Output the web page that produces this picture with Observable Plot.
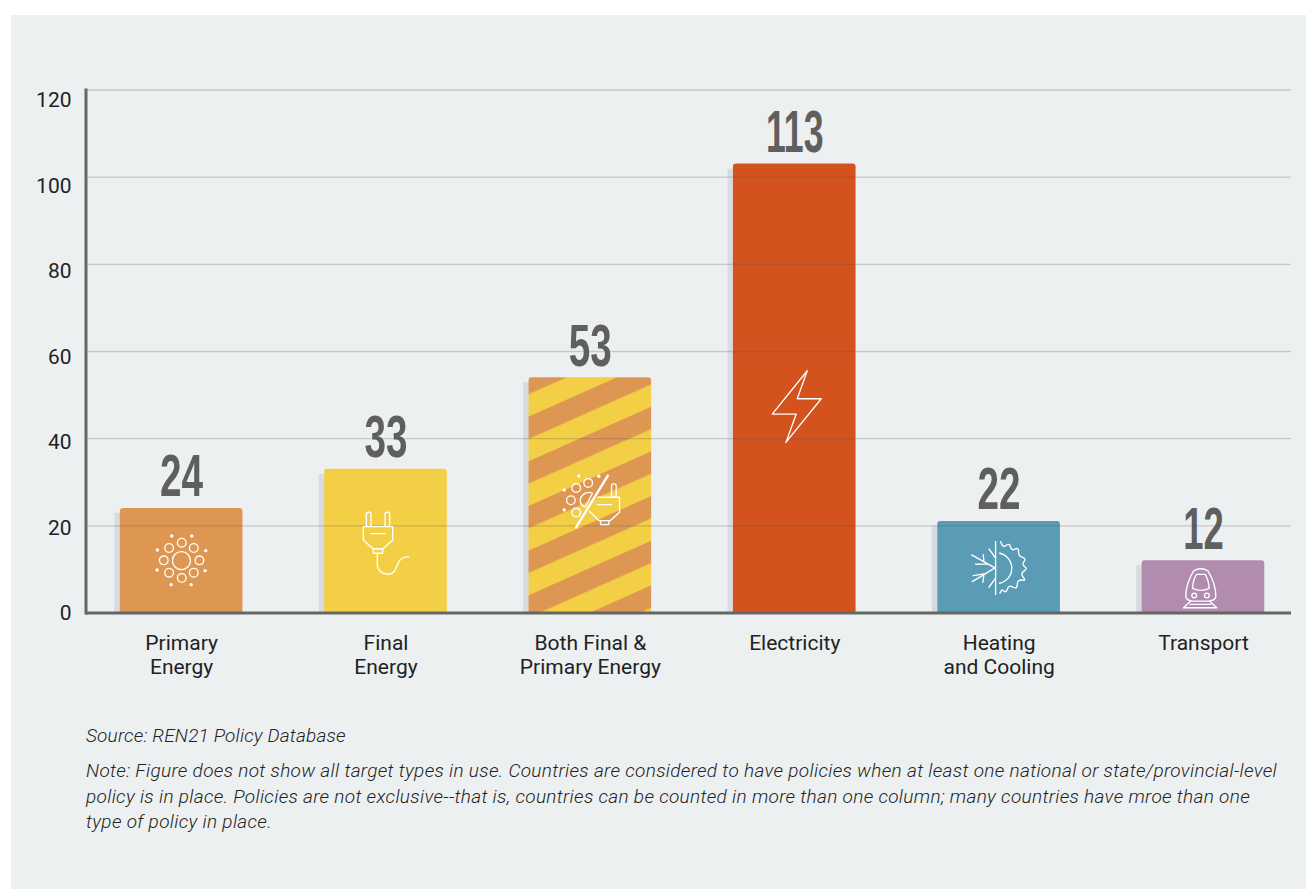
<!DOCTYPE html>
<html>
<head>
<meta charset="utf-8">
<script src="https://cdn.jsdelivr.net/npm/d3@7"></script>
<script src="https://cdn.jsdelivr.net/npm/@observablehq/plot@0.6"></script>
<style>
html,body{margin:0;padding:0;background:#fff;}
#panel{position:absolute;left:11px;top:15px;width:1295px;height:874px;background:#edf0f1;overflow:hidden;}
#panel svg{display:block;background:transparent;}
#notes{position:absolute;left:75px;top:707.5px;width:1215px;font-family:Roboto,sans-serif;font-style:italic;font-weight:300;font-size:19px;letter-spacing:0.32px;color:#222;}
#notes p{margin:0;line-height:25.5px;white-space:nowrap;}
#notes p.src{margin-bottom:10px;letter-spacing:0.17px;}
</style>
</head>
<body>
<div id="panel"><div id="chart"></div>
<div id="notes">
<p class="src">Source: REN21 Policy Database</p>
<p>Note: Figure does not show all target types in use. Countries are considered to have policies when at least one national or state/provincial-level<br>policy is in place. Policies are not exclusive--that is, countries can be counted in more than one column; many countries have mroe than one<br>type of policy in place.</p>
</div></div>
<script>
const categories = ["Primary\nEnergy","Final\nEnergy","Both Final &\nPrimary Energy","Electricity","Heating\nand Cooling","Transport"];
const barValues = [24,33,54,103,21,12];
const labelValues = [24,33,53,113,22,12];
const barColors = ["#de9753","#f3cf45","url(#stripes)","#d4521d","#5a9bb5","#b18cae"];
const iconLevels = [12,16,25.8,47.4,10.5,5.8];
const yTicks = [0,20,40,60,80,100,120];

const S = 'fill="none" stroke="#fff" stroke-width="4" stroke-linecap="round" stroke-linejoin="round"';
const glyph = (vb, body) => "data:image/svg+xml," + encodeURIComponent(
  `<svg xmlns="http://www.w3.org/2000/svg" viewBox="${vb}"><g ${S}>${body}</g></svg>`);
const dot = (x,y) => `<circle cx="${x}" cy="${y}" r="5" fill="#fff" stroke="none"/>`;
const ring = (x,y,r=13) => `<circle cx="${x}" cy="${y}" r="${r}"/>`;

const iconSun = glyph("421.5 242 240 240",
  ring(541,362,27)+ring(542,308)+ring(578,324)+ring(595,361)+ring(578,398)+ring(542,414)+ring(504,398)+ring(488,361)+ring(504,324)
  +dot(512,288)+dot(572,288)+dot(614,332)+dot(612,392)+dot(570,434)+dot(510,434)+dot(468,390)+dot(469,330));
const iconPlug = glyph("1036 190 240 240",
  `<rect x="1097" y="217" width="14" height="43" rx="6"/><rect x="1153" y="217" width="14" height="43" rx="6"/>
   <path d="M1088 260H1176V300L1146 327H1118L1088 300Z"/><path d="M1110 281H1154"/><path d="M1118 327H1146V340H1118Z"/>
   <path d="M1130 340V372C1130 392 1145 403 1160 403C1182 403 1186 385 1192 370C1198 356 1210 350 1225 350"/>`);
const iconBoth = glyph("154.5 450 240 240",
  ring(232,532)+ring(268,517)+ring(216,569)+ring(232,606)
  +dot(240,496)+dot(300,497)+dot(196,538)+dot(196,598)
  +`<path d="M281 548C255 535 225 575 259 590Z"/>
    <rect x="338" y="520" width="14" height="40" rx="6"/>
    <path d="M297 560H362V605L335 630H300L272 603"/><path d="M295 582H338"/><path d="M305 630V642H330V630"/>
    <path d="M327 495L232 650" stroke-width="7"/>`);
const iconBolt = glyph("763.5 167 240 240", `<path d="M921 180L891 264H963L857 395L888 310H816Z"/>`);
const iconHeat = glyph("175.5 200 240 240",
  `<path d="M285 243V402"/><path d="M297 278A46 46 0 0 1 297 368"/>
   <path d="M300 243Q306 262 314 256T327 252Q332 272 342 266T354 270Q352 286 364 290T372 300Q362 312 372 318T372 330Q358 338 368 350T364 358Q350 358 350 372T338 380Q324 372 320 386T306 388Q302 388 298 398"/>
   <path d="M213 283L283 322M248 282L250 303M225 311L262 310M215 363L283 322M218 345L250 340M247 365L250 340M265 265L283 290M265 380L283 355"/>`);
const iconTrain = glyph("788 262 240 240",
  `<path d="M878 332Q900 318 922 332Q946 372 945 410Q942 420 925 422H873Q858 420 855 410Q854 372 878 332Z"/>
   <path d="M887 342H913Q924 360 925 384Q900 396 875 384Q876 360 887 342Z"/>
   ${ring(880,405,7)}${ring(918,405,7)}
   <path d="M870 422L848 442H948L926 422M868 432H930"/>`);
const icons = [iconSun, iconPlug, iconBoth, iconBolt, iconHeat, iconTrain];

const rows = categories.map((c,i)=>({c, bar:barValues[i], label:labelValues[i], fill:barColors[i], level:iconLevels[i], icon:icons[i]}));
const digitWidth = s => [...String(s)].reduce((a,d)=>a+(d==="1"?19:21.5),0);
const numeralSize = 60;

const stripes = () => {
  const ns = "http://www.w3.org/2000/svg";
  const g = document.createElementNS(ns,"defs");
  g.innerHTML = `<pattern id="stripes" patternUnits="userSpaceOnUse" width="40.8" height="40.8" patternTransform="translate(519 401) rotate(-24)">
    <rect width="40.8" height="40.8" fill="#f3cf45"/><rect width="40.8" height="20.4" fill="#de9753"/></pattern>`;
  return g;
};

const squeeze = (index, scales, values, dims, ctx, next) => {
  const g = next(index, scales, values, dims, ctx);
  g.querySelectorAll("text").forEach(t => {
    const s = t.textContent;
    const sx = digitWidth(s) / (s.length * numeralSize * 0.556);
    t.setAttribute("transform", (t.getAttribute("transform") || "") + ` scale(${sx},1)`);
  });
  return g;
};

const chart = Plot.plot({
  width:1295, height:685,
  marginLeft:74.5, marginRight:15, marginTop:74.5, marginBottom:87.5,
  style:{fontFamily:"Roboto, sans-serif", fontSize:"21px", color:"#222", background:"transparent"},
  x:{domain:categories, range:[108.8,1253.3], paddingInner:0.4, paddingOuter:0, round:false, label:null},
  y:{domain:[0,120], range:[597.5,74.5], label:null},
  color:{type:"identity"},
  marks:[
    stripes,
    Plot.barY(rows,{x:"c", y1:0, y2:d=>d.bar-1.15, dx:-5.5, fill:"#d9dcdf", clip:true}),
    Plot.barY(rows,{x:"c", y1:-3, y2:"bar", fill:"fill", rx:3, clip:true}),
    Plot.text(rows,{x:"c", y:"bar", text:"label", dy:-12, lineAnchor:"bottom", fill:"#5f5f5f",
      fontFamily:"'Liberation Sans', sans-serif", fontWeight:700, fontSize:numeralSize, render:squeeze}),
    Plot.ruleY(yTicks.slice(1),{stroke:"#555", strokeOpacity:0.25, strokeWidth:1.4}),
    Plot.image(rows,{x:"c", y:"level", src:"icon", width:80, height:80}),
    Plot.axisY(yTicks,{y:d=>d*0.981, tickSize:0, tickPadding:14.5, dy:0.5, label:null, fill:"#222"}),
    Plot.axisX({tickSize:0, tickPadding:20, label:null, lineHeight:1.14, fill:"#222"}),
    Plot.ruleY([0],{stroke:"#666", strokeWidth:3}),
    Plot.frame({anchor:"left", stroke:"#666", strokeWidth:3})
  ]
});
document.getElementById("chart").append(chart);
</script>
</body>
</html>
